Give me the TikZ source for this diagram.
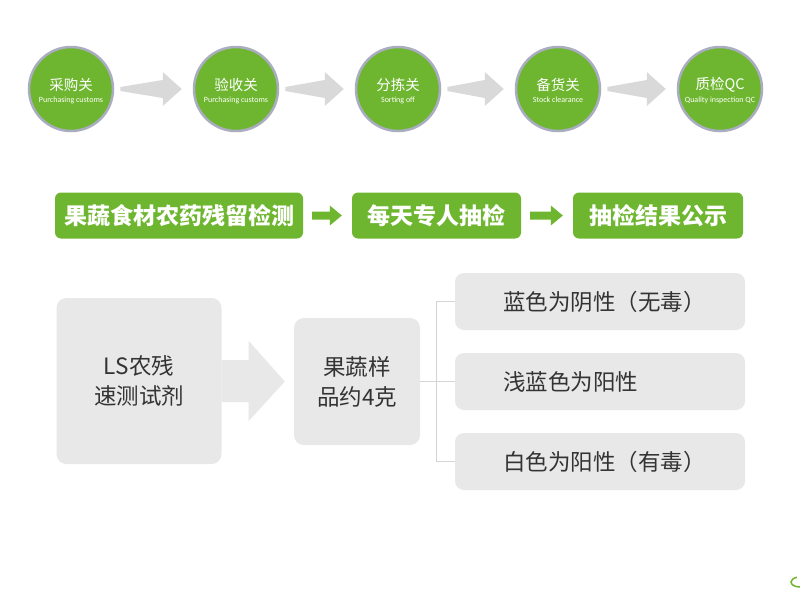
\documentclass[tikz,border=0pt]{standalone}
\usepackage{fontspec}
\setmainfont{Noto Sans CJK SC}
\newfontfamily\enfont{Carlito}
\usetikzlibrary{calc}
\definecolor{grn}{HTML}{6EB62F}
\definecolor{ring}{HTML}{A9ADBF}
\definecolor{arrgray}{HTML}{D9D9D9}
\definecolor{boxgray}{HTML}{E8E8E8}
\definecolor{txtgray}{HTML}{333333}
\definecolor{linegray}{HTML}{D4D4D4}
\begin{document}
\begin{tikzpicture}[x=1pt,y=-1pt,
  circ/.style={circle,fill=grn,draw=ring,line width=2.5pt,minimum size=84pt,inner sep=0pt},
  ctitle/.style={text=white,inner sep=0pt,font=\fontsize{14.5}{16}\selectfont},
  csub/.style={text=white,inner sep=0pt,font=\enfont\fontsize{8}{9}\selectfont},
  gbar/.style={rounded corners=6pt,fill=grn,text=white,inner sep=0pt,minimum height=46pt,font=\bfseries\fontsize{23}{26}\selectfont},
  gbox/.style={rounded corners=10pt,fill=boxgray,text=txtgray,align=center,inner sep=0pt,font=\fontsize{22.5}{30}\selectfont},
  rbox/.style={rounded corners=9pt,fill=boxgray,text=txtgray,align=left,inner sep=0pt,text width=290pt,minimum height=57pt,font=\fontsize{22.5}{26}\selectfont},
  bracket/.style={draw=linegray,line width=0.8pt}
  ]
\useasboundingbox[fill=white] (0,0) rectangle (800,600);

% top row circles
\node[circ] (c1) at (71,89) {};
\node[circ] (c2) at (236,89) {};
\node[circ] (c3) at (398,89) {};
\node[circ] (c4) at (558,89) {};
\node[circ] (c5) at (720,89) {};
\node[ctitle] (t1) at ($(c1)+(0,-4)$) {采购关};
\node[csub]   (s1) at ($(c1)+(0,11)$) {Purchasing customs};
\node[ctitle] (t2) at ($(c2)+(0,-4)$) {验收关};
\node[csub]   (s2) at ($(c2)+(0,11)$) {Purchasing customs};
\node[ctitle] (t3) at ($(c3)+(0,-4)$) {分拣关};
\node[csub]   (s3) at ($(c3)+(0,11)$) {Sorting off};
\node[ctitle] (t4) at ($(c4)+(0,-4)$) {备货关};
\node[csub]   (s4) at ($(c4)+(0,11)$) {Stock clearance};
\node[ctitle] (t5) at ($(c5)+(0,-4)$) {质检QC};
\node[csub]   (s5) at ($(c5)+(0,11)$) {Quality inspection QC};

\foreach \a/\b in {c1/c2,c2/c3,c3/c4,c4/c5}{
  \fill[arrgray] ($(\a.east)+(6,-2)$) -- ($(\b.west)+(-30,-9)$) -- ($(\b.west)+(-30,-17)$)
     -- ($(\b.west)+(-11,0)$) -- ($(\b.west)+(-30,17)$) -- ($(\b.west)+(-30,9)$)
     -- ($(\a.east)+(6,2)$) -- cycle;
}

% green bars
\node[gbar,minimum width=248pt] (b1) at (179,215.5) {果蔬食材农药残留检测};
\node[gbar,minimum width=169pt] (b2) at (436.5,215.5) {每天专人抽检};
\node[gbar,minimum width=170pt] (b3) at (658,215.5) {抽检结果公示};
\foreach \a/\b in {b1/b2,b2/b3}{
  \fill[grn] ($(\a.east)+(9,-4)$) -- ($(\b.west)+(-22,-4)$) -- ($(\b.west)+(-22,-10)$)
     -- ($(\b.west)+(-10,0)$) -- ($(\b.west)+(-22,10)$) -- ($(\b.west)+(-22,4)$)
     -- ($(\a.east)+(9,4)$) -- cycle;
}

% bottom part
\node[gbox,minimum width=165pt,minimum height=166pt] (ls) at (139,381) {LS农残\\速测试剂};
\node[gbox,minimum width=126pt,minimum height=127pt] (sm) at (357,381.5) {果蔬样\\品约4克};
\fill[boxgray] ($(ls.east)+(0,-21)$) -- ($(ls.east)+(27,-21)$) -- ($(ls.east)+(27,-40)$)
   -- ($(sm.west)+(-9,0)$) -- ($(ls.east)+(27,40)$) -- ($(ls.east)+(27,21)$)
   -- ($(ls.east)+(0,21)$) -- cycle;

\node[rbox] (r1) at (600,301.5) {\hspace*{48pt}蓝色为阴性（无毒）};
\node[rbox] (r2) at (600,381.5) {\hspace*{48pt}浅蓝色为阳性};
\node[rbox] (r3) at (600,461.5) {\hspace*{48pt}白色为阳性（有毒）};

\draw[bracket] (sm.east) -- (r2.west);
\draw[bracket] (r1.west) -- ++(-18,0) |- (r3.west);

% logo fragment
\draw[grn,line width=1.5pt] (800,587) arc[start angle=90,end angle=250,x radius=9,y radius=5];
\end{tikzpicture}
\end{document}
